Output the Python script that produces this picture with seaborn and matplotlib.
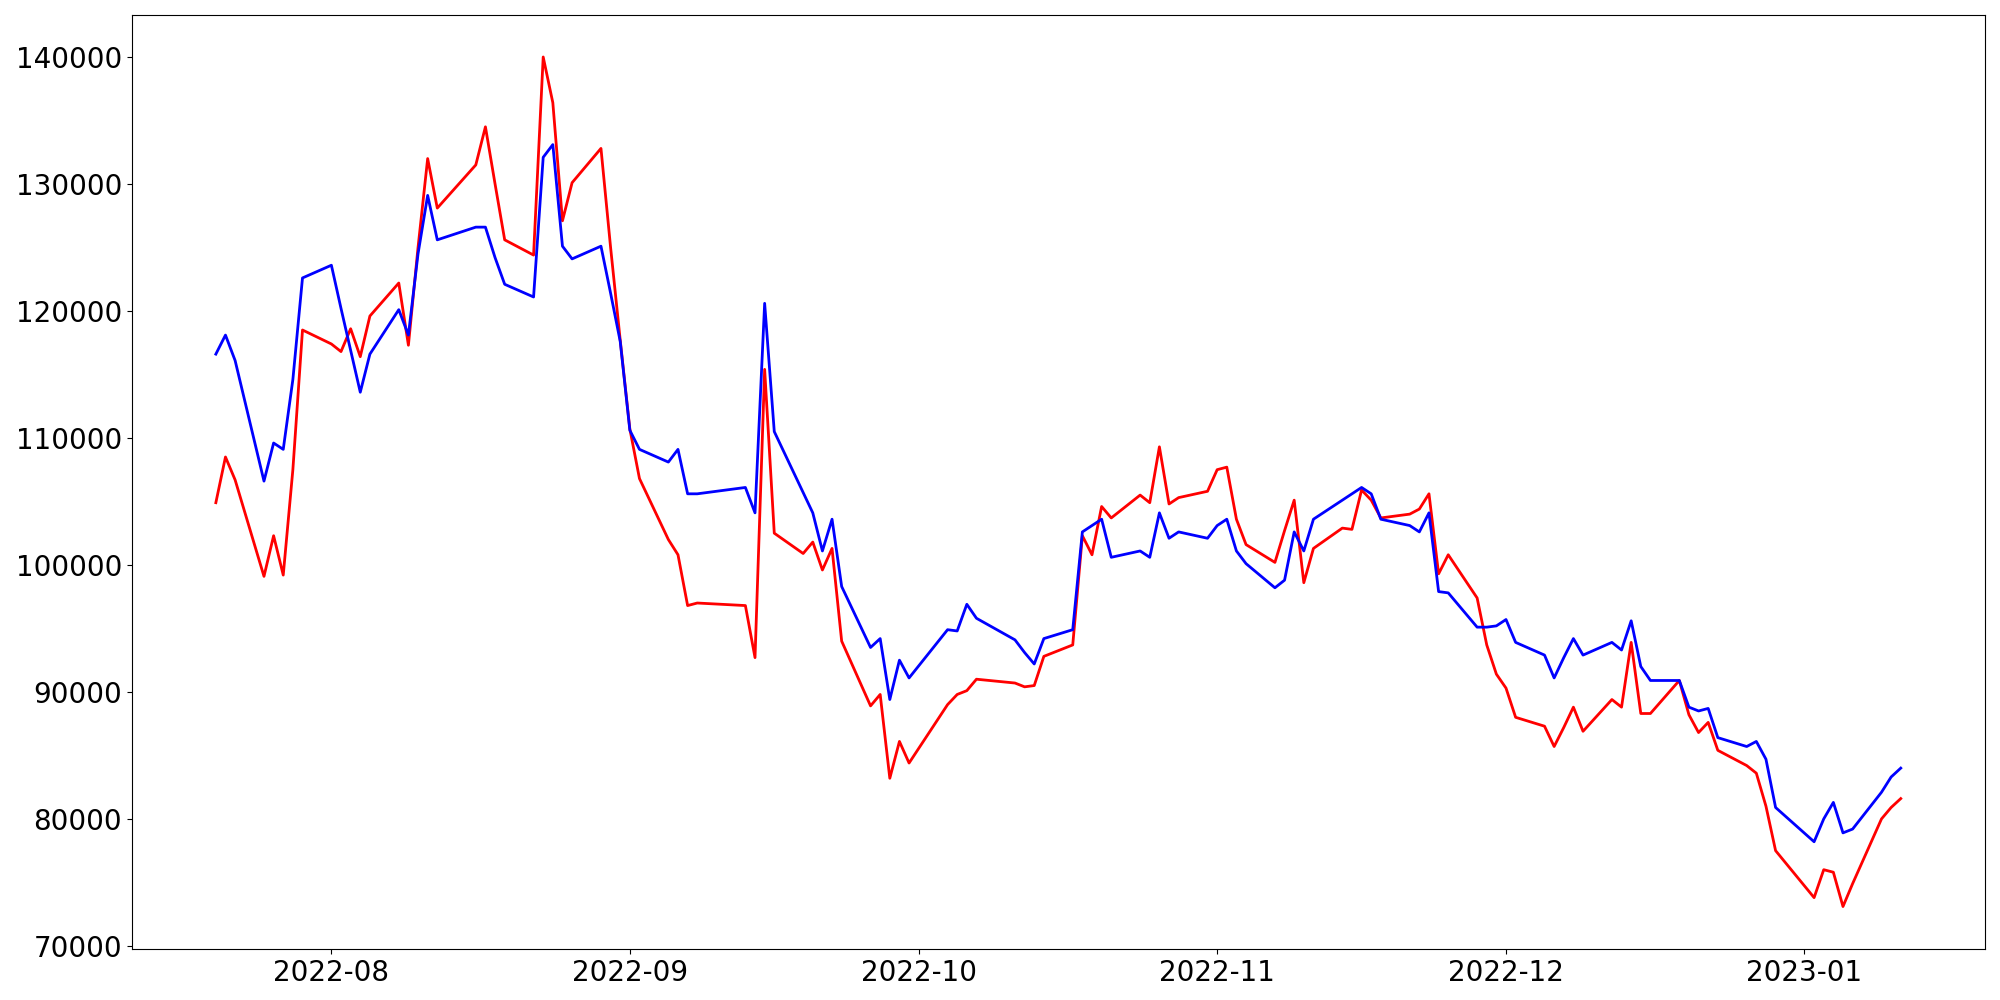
import pandas as pd
import numpy as np
import matplotlib
matplotlib.use("Agg")
import matplotlib.pyplot as plt
import seaborn as sns

# trading days (KRX calendar, holidays removed)
holidays = ["2022-08-15", "2022-09-09", "2022-09-12", "2022-10-03", "2022-10-10", "2022-12-30"]
dates = pd.bdate_range("2022-07-20", "2023-01-11")
dates = dates[~dates.isin(pd.to_datetime(holidays))]

red_vals = [
    104900, 108500, 106700, 99100, 102300, 99200, 107500, 118500,
    117400, 116800, 118600, 116400, 119600, 122200, 117300, 125000, 132000, 128100,
    131500, 134500, 130000, 125600, 124400, 140000, 136400, 127100, 130100, 132800,
    125000, 117700,
    110700, 106800, 102000, 100800, 96800, 97000, 96800, 92700, 115400, 102500,
    100900, 101800, 99600, 101300, 94000, 88900, 89800, 83200, 86100, 84400,
    89000, 89800, 90100, 91000, 90700, 90400, 90500, 92800, 93700, 102300,
    100800, 104600, 103700, 105500, 104900, 109300, 104800, 105300, 105800,
    107500, 107700, 103600, 101600, 100200, 102700, 105100, 98600, 101300, 102900,
    102800, 105900, 105100, 103700, 104000, 104400, 105600, 99300, 100800, 97400,
    93700, 91400,
    90300, 88000, 87300, 85700, 87200, 88800, 86900, 89400, 88800, 93900,
    88300, 88300, 90900, 88200, 86800, 87600, 85400, 84200, 83600, 81000, 77500,
    73800, 76000, 75800, 73100, 74900, 80000, 80900, 81600,
]

blue_vals = [
    116600, 118100, 116100, 106600, 109600, 109100, 114600, 122600,
    123600, 120200, 116900, 113600, 116600, 120100, 118100, 124500, 129100, 125600,
    126600, 126600, 124200, 122100, 121100, 132100, 133100, 125100, 124100, 125100,
    121400, 117600,
    110600, 109100, 108100, 109100, 105600, 105600, 106100, 104100, 120600, 110500,
    105700, 104100, 101100, 103600, 98300, 93500, 94200, 89400, 92500, 91100,
    94900, 94800, 96900, 95800, 94100, 93100, 92200, 94200, 94900, 102600,
    103100, 103600, 100600, 101100, 100600, 104100, 102100, 102600, 102100,
    103100, 103600, 101100, 100100, 98200, 98800, 102600, 101100, 103600, 105100,
    105600, 106100, 105600, 103600, 103100, 102600, 104100, 97900, 97800, 95100,
    95100, 95200,
    95700, 93900, 92900, 91100, 92700, 94200, 92900, 93900, 93300, 95600,
    92000, 90900, 90900, 88800, 88500, 88700, 86400, 85700, 86100, 84700, 80900,
    78200, 80000, 81300, 78900, 79200, 82100, 83300, 84000,
]

df = pd.DataFrame({"date": dates, "red": red_vals, "blue": blue_vals})

fig = plt.figure(figsize=(20, 10), dpi=100)
ax = fig.add_axes([0.0658, 0.051, 0.9267, 0.9345])
sns.lineplot(data=df, x="date", y="red", color="red", linewidth=2, ax=ax)
sns.lineplot(data=df, x="date", y="blue", color="blue", linewidth=2, ax=ax)
ax.set(xlabel="", ylabel="")
ax.tick_params(labelsize=20)

fig.savefig("out.png", dpi=100)
